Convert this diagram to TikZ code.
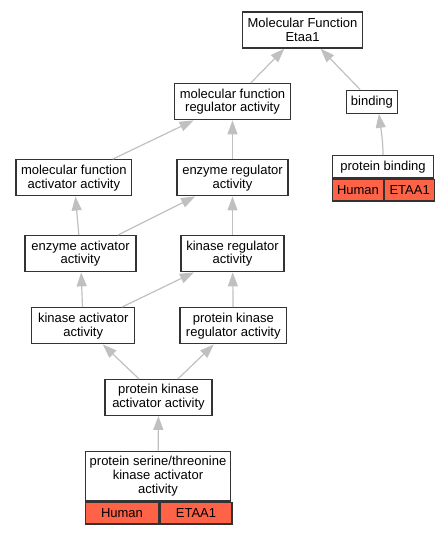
\documentclass[tikz,border=0pt]{standalone}
\usepackage{fontspec}
\setmainfont{Liberation Sans}
\usepackage{xcolor}
\usetikzlibrary{positioning,arrows.meta,calc}
\definecolor{tomato}{HTML}{FF6347}
\definecolor{edgegray}{HTML}{C0C0C0}

\tikzset{
  term/.style={draw=black!80,line width=1pt,fill=white,inner sep=0pt,align=center,
    font=\fontsize{9.75}{10.3}\selectfont,minimum height=27pt},
  cell/.style={term,fill=tomato,anchor=north west,minimum height=16.2pt},
  edge/.style={draw=edgegray,line width=0.9pt,-{Triangle[length=10.5pt,width=7.5pt]}},
}

\begin{document}
\begin{tikzpicture}[x=0.75pt,y=-0.75pt]
\useasboundingbox (0,0) rectangle (448,533);

% terms
\node[term,minimum width=90.3pt] (mf) at (302.5,30) {Molecular Function\\Etaa1};
\node[term,minimum width=86.7pt] (mfra) at (232.5,101.7) {molecular function\\regulator activity};
\node[term,minimum width=38.1pt,minimum height=17.2pt] (bind) at (371.9,101.7) {binding};
\node[term,minimum width=86.8pt] (mfaa) at (73.8,177.8) {molecular function\\activator activity};
\node[term,minimum width=83.3pt] (era) at (232.5,177.8) {enzyme regulator\\activity};
\node[term,minimum width=83.3pt] (eaa) at (80.5,253.7) {enzyme activator\\activity};
\node[term,minimum width=77.3pt] (kra) at (232.5,253.7) {kinase regulator\\activity};
\node[term,minimum width=77.3pt] (kaa) at (83.2,325.8) {kinase activator\\activity};
\node[term,minimum width=80pt] (pkra) at (233.3,325.8) {protein kinase\\regulator activity};
\node[term,minimum width=80.3pt,minimum height=26.7pt] (pkaa) at (158.5,397.5) {protein kinase\\activator activity};

% annotated terms
\node[term,minimum width=75.5pt,minimum height=16.7pt] (pb) at (383,166.8) {protein binding};
\node[cell,minimum width=38pt] (pbH) at (pb.south west) {Human};
\node[cell,minimum width=37.5pt] (pbG) at (pbH.north east) {ETAA1};

\node[term,minimum width=109pt,minimum height=37.3pt] (pst) at (158,476.2) {protein serine/threonine\\kinase activator\\activity};
\node[cell,minimum width=55pt] (pstH) at (pst.south west) {Human};
\node[cell,minimum width=54pt] (pstG) at (pstH.north east) {ETAA1};

% is_a edges
\draw[edge] (mfra) -- (mf);
\draw[edge] (bind) -- (mf);
\draw[edge] (pb.north) .. controls +(0,-15) and +(2,15) .. ($(bind.south)+(7,0)$);
\draw[edge] (mfaa) -- (mfra);
\draw[edge] (era) -- (mfra);
\draw[edge] (eaa) -- (mfaa);
\draw[edge] (eaa) -- (era);
\draw[edge] (kra) -- (era);
\draw[edge] (kaa) -- (eaa);
\draw[edge] (kaa) -- (kra);
\draw[edge] (pkra) -- (kra);
\draw[edge] (pkaa) -- (kaa);
\draw[edge] (pkaa) -- (pkra);
\draw[edge] (pst) -- (pkaa);

\end{tikzpicture}
\end{document}
